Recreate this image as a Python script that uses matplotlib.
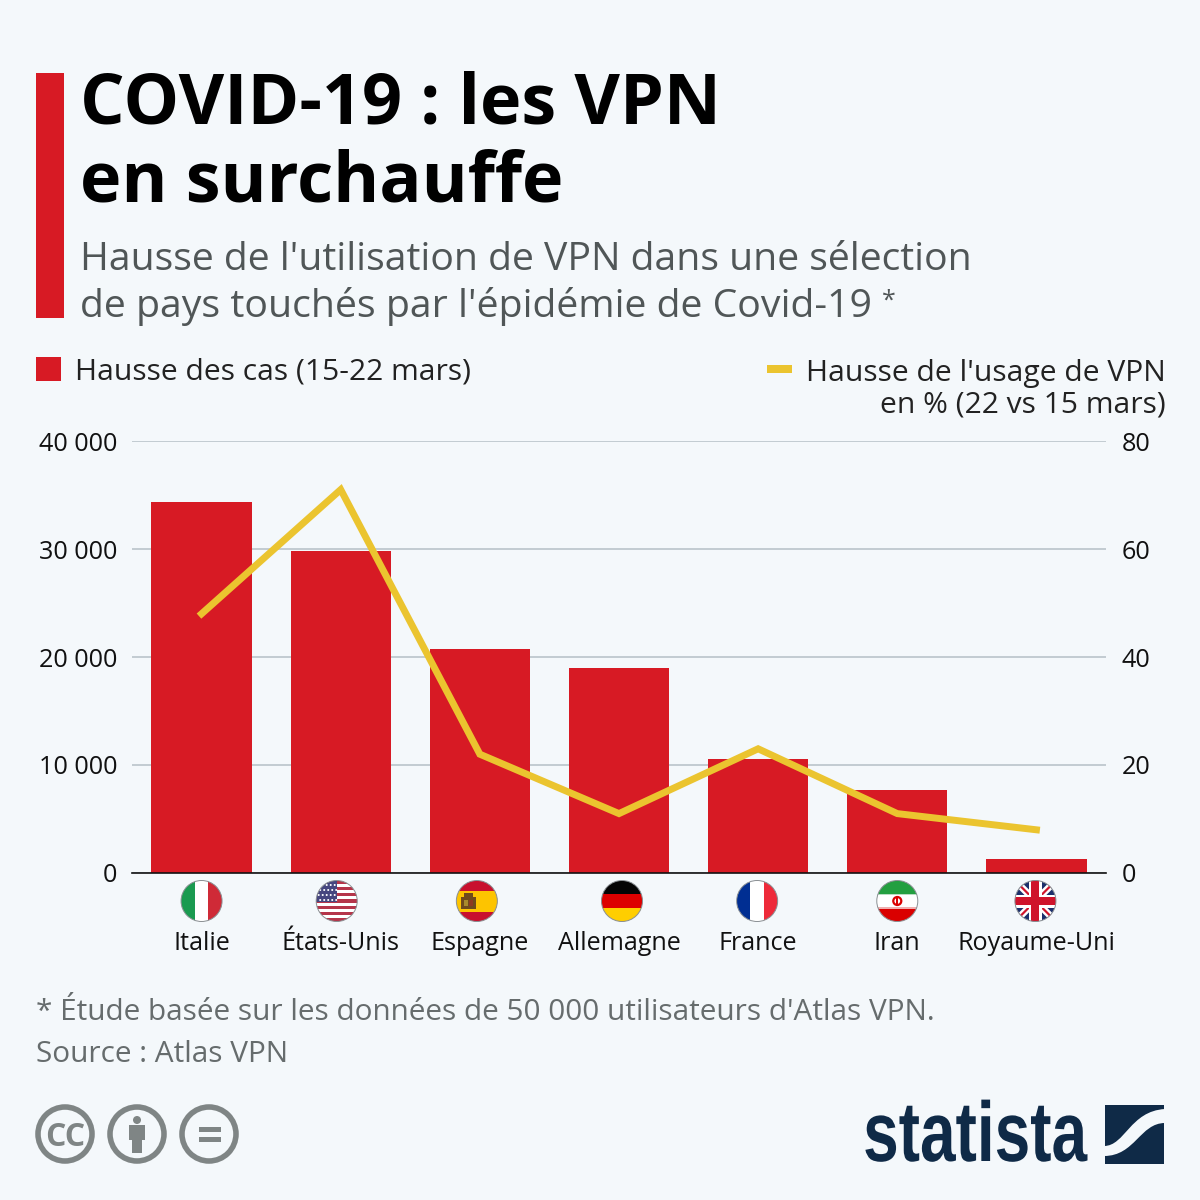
"""COVID-19 : hausse de l'usage des VPN, d'apres Statista."""

import matplotlib.patheffects as pe
import matplotlib.pyplot as plt
from matplotlib.patches import Circle, PathPatch, Rectangle
from matplotlib.path import Path
from matplotlib.transforms import Affine2D

countries = ["Italie", "États-Unis", "Espagne", "Allemagne", "France", "Iran", "Royaume-Uni"]
cases = [34350, 29850, 20750, 19000, 10550, 7700, 1300]
vpn_usage = [48, 71, 22, 11, 23, 11, 8]
cases_ticks = [0, 10000, 20000, 30000, 40000]
cases_tick_labels = ["0", "10 000", "20 000", "30 000", "40 000"]
vpn_ticks = [0, 20, 40, 60, 80]

BG = "#f4f8fb"
RED = "#d71a24"
YELLOW = "#ebc42f"
GRAY = "#7f8585"
NAVY = "#0f2a47"
FONT = "Open Sans"

plt.rcParams["font.family"] = [FONT, "DejaVu Sans"]

fig = plt.figure(figsize=(12, 12), dpi=100, facecolor=BG)

# Chart area, in figure fractions (pixels / 1200)
ax = fig.add_axes([132 / 1200, 1 - 873 / 1200, 974 / 1200, 432 / 1200], facecolor="none")
ax.bar(range(len(countries)), cases, width=0.72, color=RED, zorder=2)
ax.set_xlim(-0.5, 6.5)
ax.set_ylim(0, 40000)
ax.set_yticks(cases_ticks, cases_tick_labels, fontsize=18.2, color="#111111")
ax.set_xticks([])
ax.tick_params(axis="y", length=0, pad=10.5)
ax.grid(axis="y", color="#b5bfc6", linewidth=1.1, zorder=1)
for side in ["top", "left", "right"]:
    ax.spines[side].set_visible(False)
ax.spines["bottom"].set_color("#111111")
ax.spines["bottom"].set_linewidth(1.2)
ax.spines["bottom"].set_zorder(4)

ax2 = ax.twinx()
ax2.plot(range(len(countries)), vpn_usage, color=YELLOW, linewidth=5, solid_joinstyle="miter", zorder=3)
ax2.set_ylim(0, 80)
ax2.set_yticks(vpn_ticks, [str(v) for v in vpn_ticks], fontsize=18.2, color="#111111")
ax2.tick_params(axis="y", length=0, pad=11)
for side in ["top", "left", "right", "bottom"]:
    ax2.spines[side].set_visible(False)

# Overlay in pixel coordinates for the decoration
deco = fig.add_axes([0, 0, 1, 1], facecolor="none")
deco.set_xlim(0, 1200)
deco.set_ylim(1200, 0)
deco.axis("off")


class Squeeze(pe.AbstractPathEffect):
    """Narrow a text horizontally around a pixel column."""

    def __init__(self, x0, sx):
        super().__init__()
        self.x0 = x0
        self.sx = sx

    def draw_path(self, renderer, gc, tpath, affine, rgbFace=None):
        narrow = Affine2D().translate(-self.x0, 0).scale(self.sx, 1).translate(self.x0, 0)
        renderer.draw_path(gc, tpath, affine + narrow, rgbFace)


def rect(x0, y0, x1, y1, color, clip=None, z=5):
    r = Rectangle((x0, y0), x1 - x0, y1 - y0, facecolor=color, edgecolor="none", zorder=z)
    deco.add_patch(r)
    if clip is not None:
        r.set_clip_path(clip)
    return r


def flag_circle(cx, cy, r=20.5):
    c = Circle((cx, cy), r, facecolor="none", edgecolor="none")
    deco.add_patch(c)
    return c


def outline(cx, cy, r=20.5):
    deco.add_patch(Circle((cx, cy), r, facecolor="none", edgecolor="#8a8f93", linewidth=0.7, zorder=7))


def vertical(cx, cy, colors):
    clip = flag_circle(cx, cy)
    for i, c in enumerate(colors):
        rect(cx - 20.5 + i * 41 / 3, cy - 21, cx - 20.5 + (i + 1) * 41 / 3, cy + 21, c, clip)
    outline(cx, cy)


def horizontal(cx, cy, colors, heights):
    clip = flag_circle(cx, cy)
    top = cy - 20.5
    for c, h in zip(colors, heights):
        rect(cx - 21, top, cx + 21, top + h, c, clip)
        top += h
    outline(cx, cy)


def usa(cx, cy):
    clip = flag_circle(cx, cy)
    rect(cx - 21, cy - 21, cx + 21, cy + 21, "white", clip)
    for i in range(7):
        y = cy - 20.5 + i * 41 / 6.5
        rect(cx - 21, y, cx + 21, y + 41 / 13, "#b5354a", clip)
    rect(cx - 21, cy - 21, cx, cy + 1, "#46467f", clip)
    for row in range(4):
        for col in range(5):
            s = Circle((cx - 18 + col * 4 + (row % 2) * 1.5, cy - 16 + row * 5), 1.0, facecolor="white", zorder=6)
            deco.add_patch(s)
            s.set_clip_path(clip)
    outline(cx, cy)


def spain(cx, cy):
    horizontal(cx, cy, ["#c8102e", "#fdc400", "#c8102e"], [10, 21, 10])
    rect(cx - 16, cy - 4, cx - 1, cy + 8, "#6f4a1c", z=6)
    rect(cx - 13, cy - 8, cx - 4, cy - 4, "#6f4a1c", z=6)
    rect(cx - 13, cy - 1, cx - 9, cy + 5, "#a98a2c", z=6)
    rect(cx - 8, cy - 1, cx - 4, cy + 5, "#8e3a20", z=6)


def iran(cx, cy):
    horizontal(cx, cy, ["#239f40", "white", "#da0000"], [14, 13, 14])
    clip = flag_circle(cx, cy)
    rect(cx - 21, cy - 7.5, cx + 21, cy - 6, "#b9dcc2", clip, z=6)
    rect(cx - 21, cy + 6, cx + 21, cy + 7.5, "#f0b0b0", clip, z=6)
    deco.add_patch(Circle((cx, cy), 4, facecolor="none", edgecolor="#da0000", linewidth=1.6, zorder=6))
    rect(cx - 0.8, cy - 4.5, cx + 0.8, cy + 4.5, "#da0000", z=6)


def uk(cx, cy):
    clip = flag_circle(cx, cy)
    rect(cx - 21, cy - 21, cx + 21, cy + 21, "#1c2f6b", clip)
    for dx in [1, -1]:
        line, = deco.plot([cx - 21 * dx, cx + 21 * dx], [cy - 21, cy + 21], color="white", linewidth=5, zorder=6)
        line.set_clip_path(clip)
        line, = deco.plot([cx - 21 * dx, cx + 21 * dx], [cy - 21, cy + 21], color="#cf142b", linewidth=1.6, zorder=6)
        line.set_clip_path(clip)
    rect(cx - 21, cy - 6.5, cx + 21, cy + 6.5, "white", clip, z=6)
    rect(cx - 6.5, cy - 21, cx + 6.5, cy + 21, "white", clip, z=6)
    rect(cx - 21, cy - 4, cx + 21, cy + 4, "#cf142b", clip, z=6)
    rect(cx - 4, cy - 21, cx + 4, cy + 21, "#cf142b", clip, z=6)
    outline(cx, cy)


# Category labels and flags, placed from the bar axis
flag_y = 901
flag_offsets = [0, -4, -3, 3, -1, 0, -1]
flag_funcs = [
    lambda x: vertical(x, flag_y, ["#1a9a50", "white", "#cf2a37"]),
    lambda x: usa(x, flag_y),
    lambda x: spain(x, flag_y),
    lambda x: horizontal(x, flag_y, ["#050505", "#dd0000", "#ffce00"], [13.7, 13.7, 13.6]),
    lambda x: vertical(x, flag_y, ["#002e92", "white", "#ee2a3a"]),
    lambda x: iran(x, flag_y),
    lambda x: uk(x, flag_y),
]
for i, name in enumerate(countries):
    x_px = ax.transData.transform((i, 0))[0]
    flag_funcs[i](x_px + flag_offsets[i])
    deco.text(x_px, 944, name, ha="center", va="center", fontsize=18.1, color="#111111")

# Title block
rect(36, 73, 64, 318, RED)
deco.text(80, 106, "COVID-19 : les VPN", fontsize=50.5, fontweight="bold", color="#000000", va="center")
deco.text(80, 184, "en surchauffe", fontsize=50.5, fontweight="bold", color="#000000", va="center")
deco.text(80, 260, "Hausse de l'utilisation de VPN dans une sélection", fontsize=28.2, color="#505657", va="center")
deco.text(80, 307, "de pays touchés par l'épidémie de Covid-19", fontsize=28.3, color="#505657", va="center")
deco.text(882, 301, "*", fontsize=18, color="#505657", va="center")

# Legend
rect(36, 357, 61, 381, RED)
deco.text(75, 372, "Hausse des cas (15-22 mars)", fontsize=21.6, color="#222222", va="center")
rect(767, 365, 792, 373, YELLOW)
deco.text(1166, 373, "Hausse de l'usage de VPN", fontsize=21.6, color="#222222", va="center", ha="right")
deco.text(1166, 405, "en % (22 vs 15 mars)", fontsize=21.6, color="#222222", va="center", ha="right")

# Notes
deco.text(36, 1013, "* Étude basée sur les données de 50 000 utilisateurs d'Atlas VPN.", fontsize=21.4, color="#666c6d", va="center")
deco.text(36, 1055, "Source : Atlas VPN", fontsize=21.4, color="#666c6d", va="center")

# Creative Commons badges
for cx in [65, 137, 209]:
    deco.add_patch(Circle((cx, 1134), 27, facecolor="none", edgecolor=GRAY, linewidth=4))
deco.text(65, 1137, "CC", fontsize=23, fontweight="bold", color=GRAY, ha="center", va="center")
deco.add_patch(Circle((137, 1120), 4, facecolor=GRAY, edgecolor="none"))
rect(129, 1125, 145, 1140, GRAY)
rect(132, 1140, 142, 1153, GRAY)
rect(199, 1127, 221, 1132, GRAY)
rect(199, 1137, 221, 1142, GRAY)

# Statista logo
deco.text(
    975, 1161, "statista", fontsize=61, fontweight="bold", family="Liberation Sans",
    color=NAVY, ha="center", va="baseline", path_effects=[Squeeze(975, 0.755)],
)
rect(1105, 1105, 1164, 1164, NAVY)
band = Path(
    [(1104, 1146), (1125, 1146), (1130, 1111), (1165, 1109), (1165, 1123), (1140, 1123), (1135, 1156), (1104, 1156), (1104, 1146)],
    [Path.MOVETO, Path.CURVE4, Path.CURVE4, Path.CURVE4, Path.LINETO, Path.CURVE4, Path.CURVE4, Path.CURVE4, Path.CLOSEPOLY],
)
deco.add_patch(PathPatch(band, facecolor=BG, edgecolor="none", zorder=6))

fig.savefig("out.png", dpi=100, facecolor=BG)
